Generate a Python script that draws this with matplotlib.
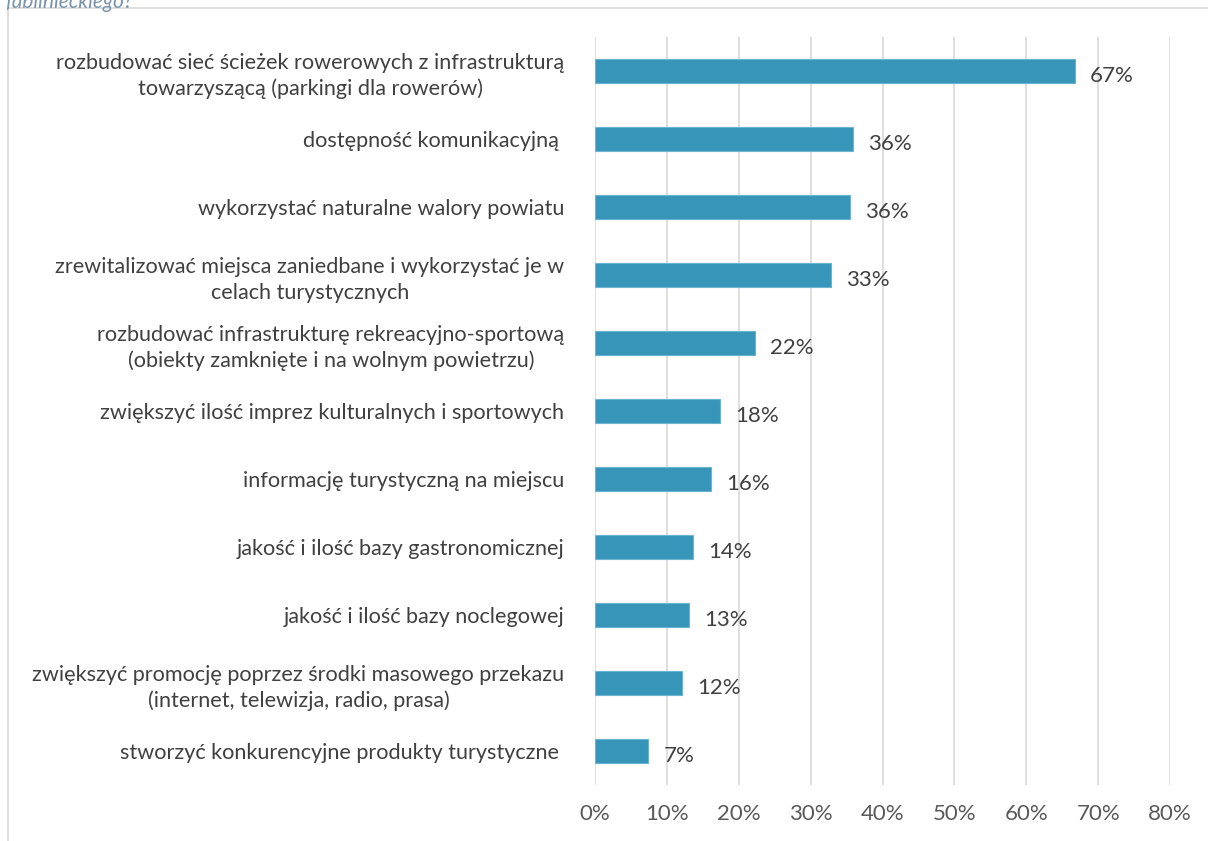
import matplotlib.pyplot as plt
from matplotlib.patches import Rectangle
from matplotlib.ticker import FuncFormatter

plt.rcParams['font.family'] = ['Lato', 'DejaVu Sans']

categories = [
    "rozbudować sieć ścieżek rowerowych z infrastrukturą\ntowarzyszącą (parkingi dla rowerów)",
    "dostępność komunikacyjną ",
    "wykorzystać naturalne walory powiatu",
    "zrewitalizować miejsca zaniedbane i wykorzystać je w\ncelach turystycznych",
    "rozbudować infrastrukturę rekreacyjno-sportową\n(obiekty zamknięte i na wolnym powietrzu)",
    "zwiększyć ilość imprez kulturalnych i sportowych",
    "informację turystyczną na miejscu",
    "jakość i ilość bazy gastronomicznej",
    "jakość i ilość bazy noclegowej",
    "zwiększyć promocję poprzez środki masowego przekazu\n(internet, telewizja, radio, prasa)",
    "stworzyć konkurencyjne produkty turystyczne ",
]
values = [0.668, 0.359, 0.355, 0.328, 0.223, 0.174, 0.161, 0.136, 0.131, 0.121, 0.074]
labels = ["67%", "36%", "36%", "33%", "22%", "18%", "16%", "14%", "13%", "12%", "7%"]

fig = plt.figure(figsize=(12.08, 8.41), dpi=100)
fig.patches.append(Rectangle((8 / 1208, -0.1), 1.2, 1 - 8 / 841 + 0.1,
                             transform=fig.transFigure, fill=False,
                             edgecolor="#d9d9d9", lw=1.2))
fig.text(0.004, 1.0 - 2 / 841, "fabilnieckiego?", fontsize=15, style="italic",
         color="#7a94ab", ha="left", va="center")

ax = fig.add_axes([595 / 1208, 1 - 785 / 841, (1170 - 595) / 1208, (785 - 37) / 841])
y = list(range(len(categories)))
ax.barh(y, values, height=0.35, color="#3795ba", edgecolor="#6ab4d3", lw=0.8, zorder=3)
for yi, v, lab in zip(y, values, labels):
    ax.text(v + 0.021, yi + 0.07, lab, va="center", ha="left", fontsize=16, color="#404040")

ax.set_yticks(y)
ax.set_yticklabels(categories, fontsize=15.6, color="#404040", multialignment="center",
                   linespacing=1.35)
ax.set_ylim(len(categories) - 0.5, -0.5)
ax.set_xlim(0, 0.8)
ax.set_xticks([i / 10 for i in range(9)])
ax.xaxis.set_major_formatter(FuncFormatter(lambda x, _: f"{x * 100:.0f}%"))
ax.tick_params(axis="x", labelsize=16, labelcolor="#595959", length=0, pad=14)
ax.tick_params(axis="y", length=0, pad=22)
ax.grid(axis="x", color="#d9d9d9", lw=1.2, zorder=0)
for s in ax.spines.values():
    s.set_visible(False)

plt.savefig("out.png", dpi=100)
